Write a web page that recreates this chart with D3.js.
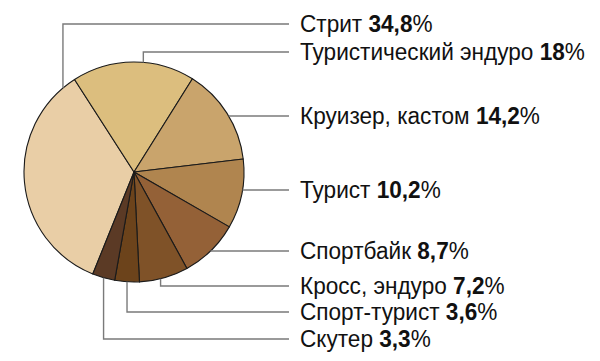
<!DOCTYPE html>
<html>
<head>
<meta charset="utf-8">
<script src="https://cdn.jsdelivr.net/npm/d3@7"></script>
<style>
  html, body { margin: 0; padding: 0; background: #fff; }
  svg { display: block; }
  text { font-family: "Liberation Sans", Arial, sans-serif; }
</style>
</head>
<body>
<svg id="chart" width="600" height="361"></svg>
<script>
// ---- data ----
const categories = ["Стрит", "Туристический эндуро", "Круизер, кастом", "Турист", "Спортбайк", "Кросс, эндуро", "Спорт-турист", "Скутер"];
const values = [34.8, 18, 14.2, 10.2, 8.7, 7.2, 3.6, 3.3];
const valueLabels = ["34,8", "18", "14,2", "10,2", "8,7", "7,2", "3,6", "3,3"];

// ---- styling / layout ----
const colors = ["#e9cea6", "#dcbe7e", "#c9a46c", "#b0854f", "#946137", "#7f5228", "#6c431b", "#5b3a25"];
const labelY = [24, 52, 116, 190, 251, 286, 312, 339];
// leader: 'v' = vertical from point on slice (fraction along slice), 'h' = horizontal from rim
const leaderMode = ["v", "v", "h", "h", "h", "v", "v", "v"];
const leaderFrac = [0.94, 0.58, 0, 0, 0, 0.57, 0.5, 0.5];

const cx = 134, cy = 172, R = 110;
const lineEndX = 289, textX = 300;
const fontSize = 23.5;
const refLabelWidth = 285; // width of the longest label in the reference

const svg = d3.select("#chart");
const g = svg.append("g").attr("transform", `translate(${cx},${cy})`);

const start = 202 * Math.PI / 180;
const pie = d3.pie().sort(null).value(d => d).startAngle(start).endAngle(start + 2 * Math.PI);
const arcs = pie(values);
const arc = d3.arc().innerRadius(0).outerRadius(R);

// leaders (drawn first)
const leaders = svg.append("g").attr("fill", "none").attr("stroke", "#7a7a7a").attr("stroke-width", 1.4);
arcs.forEach((a, i) => {
  const y = labelY[i];
  let pts;
  if (leaderMode[i] === "v") {
    const ang = a.startAngle + (a.endAngle - a.startAngle) * leaderFrac[i];
    const px = cx + R * Math.sin(ang);
    const py = cy - R * Math.cos(ang);
    pts = [[px, py], [px, y], [lineEndX, y]];
  } else {
    const dy = y - cy;
    const px = cx + Math.sqrt(R * R - dy * dy);
    pts = [[px, y], [lineEndX, y]];
  }
  leaders.append("path").attr("d", d3.line()(pts));
});

g.selectAll("path.slice")
  .data(arcs)
  .join("path")
  .attr("class", "slice")
  .attr("d", arc)
  .attr("fill", (d, i) => colors[i])
  .attr("stroke", "#1a1a1a")
  .attr("stroke-width", 1.1)
  .attr("stroke-linejoin", "round");

// labels (condensed by horizontal scaling)
const labels = svg.append("g");
const texts = categories.map((c, i) => {
  const t = labels.append("text")
    .attr("font-size", fontSize)
    .attr("fill", "#111");
  t.append("tspan").text(c + " ");
  t.append("tspan").attr("font-weight", "bold").text(valueLabels[i]);
  t.append("tspan").text("%");
  return t;
});
const widest = texts[1].node().getComputedTextLength();
const k = refLabelWidth / widest;
texts.forEach((t, i) => {
  t.attr("transform", `translate(${textX},${labelY[i] + 8}) scale(${k},1)`);
});
</script>
</body>
</html>
